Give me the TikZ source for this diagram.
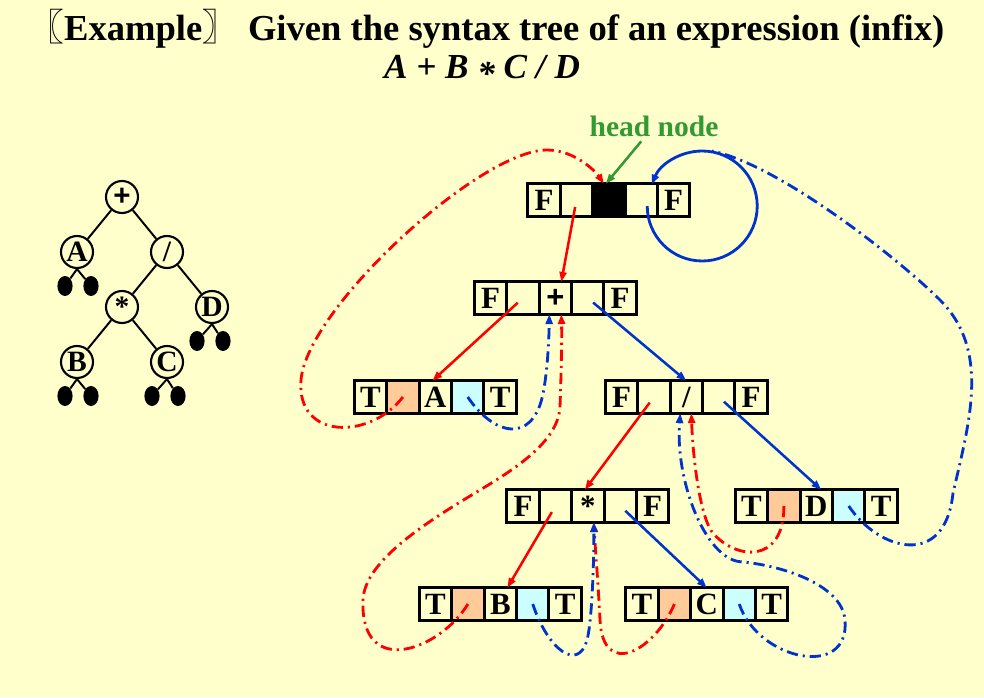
\documentclass[tikz,border=0pt]{standalone}
\usepackage{fontspec}
\setmainfont{Liberation Serif}
\newfontfamily\cjk{Noto Sans CJK SC}
\newfontfamily\plusfont{Liberation Sans}
\usetikzlibrary{shapes}
\usetikzlibrary{calc}
\usetikzlibrary{positioning}
\usetikzlibrary{arrows.meta}
\definecolor{bgyellow}{RGB}{255,255,204}
\definecolor{lorange}{RGB}{255,204,153}
\definecolor{lcyan}{RGB}{204,255,255}
\definecolor{ptrblue}{RGB}{0,51,204}
\definecolor{hgreen}{RGB}{51,153,51}

\begin{document}
\begin{tikzpicture}[x=0.025cm, y=-0.025cm,
  cell/.style={draw, line width=2.1pt, minimum size=0.81cm, inner sep=0pt, outer sep=0pt, font=\fontsize{22}{22}\selectfont\bfseries},
  tnode/.style={draw, circle, line width=1.5pt, minimum size=0.8cm, inner sep=0pt, font=\fontsize{21}{21}\selectfont\bfseries},
  leaf/.style={ellipse, fill=black, minimum width=0.38cm, minimum height=0.5cm, inner sep=0pt},
  tline/.style={line width=1.4pt},
  redlink/.style={draw=red, line width=1.8pt, shorten <=5pt, -{Triangle[length=7pt,width=5pt]}},
  bluelink/.style={redlink, draw=ptrblue},
  thread/.style={line width=2pt, dash pattern=on 8pt off 3.5pt on 1.5pt off 3.5pt, -{Triangle[length=7pt,width=5pt]}}]
\useasboundingbox (0,0) rectangle (984,697);
\fill[bgyellow] (0,0) rectangle (984,697);

\node[font=\fontsize{26}{30}\selectfont\bfseries] (title) at (486,29) {{\cjk 〖}Example{\cjk 〗} Given the syntax tree of an expression (infix)};
\node[font=\fontsize{25}{30}\selectfont\bfseries\itshape] (expr) at (482,70) {A + B \raisebox{-0.2em}{*} C / D};

% syntax tree
\node[tnode] (rt) at (122,197) {\plusfont +};
\node[tnode] (tA) at (77,252) {A};
\node[tnode] (tDiv) at (167,252) {/};
\node[tnode] (tMul) at (122,307) {*};
\node[tnode] (tD) at (212,307) {D};
\node[tnode] (tB) at (77,362) {B};
\node[tnode] (tC) at (167,362) {C};
\node[leaf] (lA1) at (65,286) {};
\node[leaf] (lA2) at (91,286) {};
\node[leaf] (lD1) at (197,341) {};
\node[leaf] (lD2) at (223,341) {};
\node[leaf] (lB1) at (65,396) {};
\node[leaf] (lB2) at (91,396) {};
\node[leaf] (lC1) at (152,396) {};
\node[leaf] (lC2) at (178,396) {};

\draw[tline] (rt) -- (tA);
\draw[tline] (rt) -- (tDiv);
\draw[tline] (tDiv) -- (tMul);
\draw[tline] (tDiv) -- (tD);
\draw[tline] (tMul) -- (tB);
\draw[tline] (tMul) -- (tC);
\draw[tline] (tA.south) -- (lA1);
\draw[tline] (tA.south) -- (lA2);
\draw[tline] (tD.south) -- (lD1);
\draw[tline] (tD.south) -- (lD2);
\draw[tline] (tB.south) -- (lB1);
\draw[tline] (tB.south) -- (lB2);
\draw[tline] (tC.south) -- (lC1);
\draw[tline] (tC.south) -- (lC2);

% head node
\node[cell] (hd1) at (544,200) {F};
\node[cell, right=0pt of hd1] (hd2) {};
\node[cell, right=0pt of hd2, fill=black] (hd3) {};
\node[cell, right=0pt of hd3] (hd4) {};
\node[cell, right=0pt of hd4] (hd5) {F};

% +
\node[cell] (pl1) at (490.5,298) {F};
\node[cell, right=0pt of pl1] (pl2) {};
\node[cell, right=0pt of pl2] (pl3) {\plusfont +};
\node[cell, right=0pt of pl3] (pl4) {};
\node[cell, right=0pt of pl4] (pl5) {F};

% A
\node[cell] (na1) at (370.5,397) {T};
\node[cell, right=0pt of na1, fill=lorange] (na2) {};
\node[cell, right=0pt of na2] (na3) {A};
\node[cell, right=0pt of na3, fill=lcyan] (na4) {};
\node[cell, right=0pt of na4] (na5) {T};

% /
\node[cell] (dv1) at (621.5,397) {F};
\node[cell, right=0pt of dv1] (dv2) {};
\node[cell, right=0pt of dv2] (dv3) {/};
\node[cell, right=0pt of dv3] (dv4) {};
\node[cell, right=0pt of dv4] (dv5) {F};

% *
\node[cell] (ml1) at (523,506) {F};
\node[cell, right=0pt of ml1] (ml2) {};
\node[cell, right=0pt of ml2] (ml3) {*};
\node[cell, right=0pt of ml3] (ml4) {};
\node[cell, right=0pt of ml4] (ml5) {F};

% D
\node[cell] (nd1) at (751.5,506) {T};
\node[cell, right=0pt of nd1, fill=lorange] (nd2) {};
\node[cell, right=0pt of nd2] (nd3) {D};
\node[cell, right=0pt of nd3, fill=lcyan] (nd4) {};
\node[cell, right=0pt of nd4] (nd5) {T};

% B
\node[cell] (nb1) at (435.5,604) {T};
\node[cell, right=0pt of nb1, fill=lorange] (nb2) {};
\node[cell, right=0pt of nb2] (nb3) {B};
\node[cell, right=0pt of nb3, fill=lcyan] (nb4) {};
\node[cell, right=0pt of nb4] (nb5) {T};

% C
\node[cell] (nc1) at (642,604) {T};
\node[cell, right=0pt of nc1, fill=lorange] (nc2) {};
\node[cell, right=0pt of nc2] (nc3) {C};
\node[cell, right=0pt of nc3, fill=lcyan] (nc4) {};
\node[cell, right=0pt of nc4] (nc5) {T};

\node[text=hgreen, font=\fontsize{21}{21}\selectfont\bfseries] (headlbl) at (654,126) {head node};
\draw[hgreen, line width=1.8pt, -{Triangle[length=7pt,width=5pt]}] (headlbl) -- ($(hd3.north)+(-3,0)$);

% links
\draw[redlink] (hd2.center) -- ($(pl3.north)+(6,0)$);
\draw[redlink] (pl2.center) -- ($(na3.north)+(-3,0)$);
\draw[bluelink] (pl4.center) -- (dv3.north);
\draw[redlink] (dv2.center) -- ($(ml3.north)+(-3,0)$);
\draw[bluelink] (dv4.center) -- ($(nd3.north)+(5,0)$);
\draw[redlink] (ml2.center) -- ($(nb3.north)+(7,0)$);
\draw[bluelink] (ml4.center) -- (nc3.north);
\draw[ptrblue, line width=2pt, -{Triangle[length=7pt,width=5pt]}] ($(hd4.center)+(6,6)$) arc[start angle=180, end angle=-157, radius=55];

% threads
\coordinate (looptop) at (712,151);
\draw[thread, red] (na2.center) .. controls (370,440) and (296,440) .. (301,380) .. controls (307,308) and (480,150) .. (547,150) .. controls (575,150) and (596,172) .. ($(hd3.north)+(-5,0)$);
\draw[thread, ptrblue] (na4.center) .. controls (490,430) and (525,445) .. (540,405) .. controls (547,385) and (549,340) .. ($(pl3.south)+(-6,0)$);
\draw[thread, red] (nb2.center) .. controls (440,650) and (360,680) .. (363,600) .. controls (364.5,560) and (430,520) .. (480,490) .. controls (520,466) and (558,440) .. (560,407) .. controls (561,380) and (562,340) .. ($(pl3.south)+(6,0)$);
\draw[thread, red] (nc2.center) .. controls (655,650) and (603,680) .. (600,620) .. controls (598,580) and (595,545) .. ($(ml3.south)+(6,0)$);
\draw[thread, ptrblue] (nb4.center) .. controls (548,650) and (578,672) .. (587,640) .. controls (592,622) and (594,560) .. ($(ml3.south)+(6,0)$);
\draw[thread, red] (nd2.center) .. controls (784,565) and (735,560) .. (712,532) .. controls (700,515) and (693,460) .. ($(dv3.south)+(5,0)$);
\draw[thread, ptrblue] (nc4.center) .. controls (758,660) and (850,680) .. (845,620) .. controls (842,584) and (780,565) .. (740,561.7) .. controls (705,558) and (675,480) .. ($(dv3.south)+(-6,0)$);
\draw[thread, ptrblue, -] (nd4.center) .. controls (878,550) and (945,570) .. (953,493) .. controls (970,420) and (990,350) .. (940,300) .. controls (900,260) and (780,165) .. (looptop);
\end{tikzpicture}
\end{document}
